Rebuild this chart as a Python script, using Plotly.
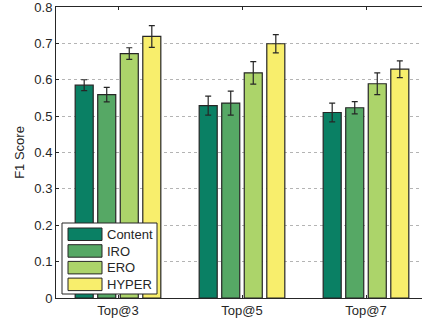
import plotly.graph_objects as go

categories = ["Top@3", "Top@5", "Top@7"]
series_names = ["Content", "IRO", "ERO", "HYPER"]
content = [0.585, 0.529, 0.510]
iro = [0.559, 0.536, 0.523]
ero = [0.672, 0.619, 0.589]
hyper = [0.719, 0.699, 0.629]
content_err = [0.015, 0.026, 0.026]
iro_err = [0.020, 0.033, 0.017]
ero_err = [0.016, 0.031, 0.030]
hyper_err = [0.030, 0.025, 0.023]
y_ticks = [0, 0.1, 0.2, 0.3, 0.4, 0.5, 0.6, 0.7, 0.8]
y_tick_labels = ["0", "0.1", "0.2", "0.3", "0.4", "0.5", "0.6", "0.7", "0.8"]

colors = ["#0a8064", "#56a865", "#acd46a", "#f8ee6c"]
values = [content, iro, ero, hyper]
errs = [content_err, iro_err, ero_err, hyper_err]

x_pos = [1, 2, 3]

W, H = 422, 324
ML, MR, MT, MB = 56, 0, 7, 26
PW, PH = W - ML - MR, H - MT - MB


def px_x(px):
    return (px - ML) / PW


def px_y(py):
    return (H - MB - py) / PH


fig = go.Figure()
for name, vals, err, col in zip(series_names, values, errs, colors):
    fig.add_trace(go.Bar(
        x=x_pos, y=vals, name=name, showlegend=False,
        marker=dict(color=col, line=dict(color="#262626", width=1.2)),
        error_y=dict(type="data", array=err, visible=True, color="#262626",
                     thickness=1.2, width=3),
    ))

# custom legend (MATLAB style)
shapes = [dict(type="rect", xref="paper", yref="paper",
               x0=px_x(62), x1=px_x(157), y0=px_y(294), y1=px_y(223),
               fillcolor="white", line=dict(color="#262626", width=1), layer="above")]
annotations = []
for i, (name, col) in enumerate(zip(series_names, colors)):
    top = 228 + i * 16.7
    shapes.append(dict(type="rect", xref="paper", yref="paper",
                       x0=px_x(68), x1=px_x(102), y0=px_y(top + 12.5), y1=px_y(top),
                       fillcolor=col, line=dict(color="#262626", width=1), layer="above"))
    annotations.append(dict(xref="paper", yref="paper", x=px_x(105), y=px_y(top + 6.5),
                            xanchor="left", yanchor="middle", text=name, showarrow=False,
                            font=dict(size=13, color="#262626")))

font_family = "Liberation Sans, Arial, sans-serif"
fig.update_layout(
    width=W, height=H,
    margin=dict(l=ML, r=MR, t=MT, b=MB),
    plot_bgcolor="white", paper_bgcolor="white",
    barmode="group", bargap=0.273, bargroupgap=0.2,
    font=dict(family=font_family, size=13, color="#262626"),
    shapes=shapes, annotations=annotations,
    xaxis=dict(
        range=[0.5, 0.5 + PW / 124.0],
        tickmode="array", tickvals=x_pos, ticktext=categories,
        ticks="inside", ticklen=3, tickcolor="#262626",
        showline=True, linecolor="#262626", linewidth=1, mirror="ticks",
        showgrid=False, zeroline=False,
        tickfont=dict(size=13),
        ticklabeloverflow="allow",
    ),
    yaxis=dict(
        range=[0, 0.8],
        tickmode="array", tickvals=y_ticks, ticktext=y_tick_labels,
        ticks="inside", ticklen=3, tickcolor="#262626",
        showline=True, linecolor="#262626", linewidth=1,
        showgrid=True, gridcolor="#b4b4b4", griddash="dot", gridwidth=1,
        zeroline=False,
        title=dict(text="F1 Score", font=dict(size=13), standoff=6),
        tickfont=dict(size=13),
        ticklabeloverflow="allow",
    ),
)

fig.write_html("out.html")
